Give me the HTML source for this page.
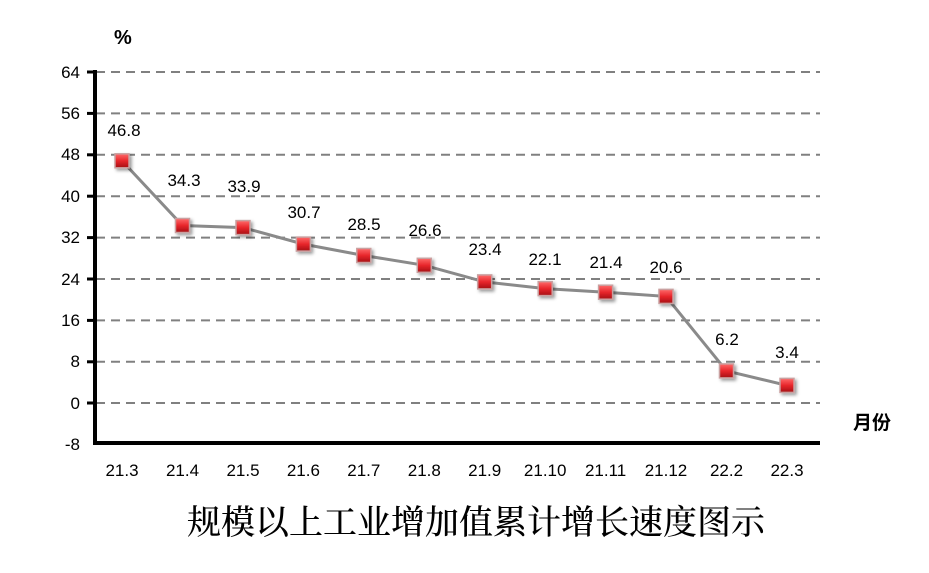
<!DOCTYPE html>
<html><head><meta charset="utf-8"><style>
body{margin:0;background:#fff;width:929px;height:568px;overflow:hidden}
svg text{font-family:"Liberation Sans","Noto Sans CJK SC",sans-serif}
</style></head><body>
<svg width="929" height="568" xmlns="http://www.w3.org/2000/svg">
<defs>
<linearGradient id="g" x1="0" y1="0" x2="0" y2="1"><stop offset="0" stop-color="#ff6b6b"/><stop offset="0.5" stop-color="#e8262b"/><stop offset="1" stop-color="#a50e14"/></linearGradient>
<filter id="s" x="-50%" y="-50%" width="200%" height="200%"><feDropShadow dx="2" dy="2" stdDeviation="1.5" flood-color="#000" flood-opacity="0.4"/></filter>
</defs>
<g stroke="#808080" stroke-width="2" stroke-dasharray="9,6">
<line x1="96" y1="72" x2="820" y2="72"/><line x1="96" y1="113.4" x2="820" y2="113.4"/><line x1="96" y1="154.8" x2="820" y2="154.8"/><line x1="96" y1="196.2" x2="820" y2="196.2"/><line x1="96" y1="237.6" x2="820" y2="237.6"/><line x1="96" y1="279" x2="820" y2="279"/><line x1="96" y1="320.4" x2="820" y2="320.4"/><line x1="96" y1="361.8" x2="820" y2="361.8"/><line x1="96" y1="403" x2="820" y2="403"/>
</g>
<g stroke="#000" stroke-width="4">
<line x1="95" y1="70" x2="95" y2="445"/><line x1="93" y1="443" x2="820" y2="443"/>
</g>
<g stroke="#000" stroke-width="3">
<line x1="87" y1="72" x2="95" y2="72"/><line x1="87" y1="113.4" x2="95" y2="113.4"/><line x1="87" y1="154.8" x2="95" y2="154.8"/><line x1="87" y1="196.2" x2="95" y2="196.2"/><line x1="87" y1="237.6" x2="95" y2="237.6"/><line x1="87" y1="279" x2="95" y2="279"/><line x1="87" y1="320.4" x2="95" y2="320.4"/><line x1="87" y1="361.8" x2="95" y2="361.8"/><line x1="87" y1="403" x2="95" y2="403"/>
</g>
<g font-size="17" text-anchor="end" fill="#000">
<text x="80" y="78">64</text><text x="80" y="119">56</text><text x="80" y="160">48</text><text x="80" y="202">40</text><text x="80" y="243">32</text><text x="80" y="285">24</text><text x="80" y="326">16</text><text x="80" y="367">8</text><text x="80" y="409">0</text><text x="80" y="450">-8</text>
</g>
<text x="114" y="44" font-size="20" font-weight="bold">%</text>
<text x="853" y="429" font-size="19" font-weight="bold">月份</text>
<g font-size="17" text-anchor="middle">
<text x="122" y="476">21.3</text><text x="182.5" y="476">21.4</text><text x="243" y="476">21.5</text><text x="303.4" y="476">21.6</text><text x="363.8" y="476">21.7</text><text x="424.3" y="476">21.8</text><text x="484.7" y="476">21.9</text><text x="545.2" y="476">21.10</text><text x="605.6" y="476">21.11</text><text x="666" y="476">21.12</text><text x="726.5" y="476">22.2</text><text x="787" y="476">22.3</text>
</g>
<polyline fill="none" stroke="#8a8a8a" stroke-width="3" points="122,160.8 182.5,225.5 243,227.6 303.4,244.1 363.8,255.5 424.3,265.3 484.7,281.9 545.2,288.6 605.6,292.2 666,296.4 726.5,370.9 787,385.4"/>
<g filter="url(#s)" fill="url(#g)" stroke="#c9a0a0" stroke-width="1.5">
<rect x="115" y="153.8" width="14" height="14"/><rect x="175.5" y="218.5" width="14" height="14"/><rect x="236" y="220.6" width="14" height="14"/><rect x="296.4" y="237.1" width="14" height="14"/><rect x="356.8" y="248.5" width="14" height="14"/><rect x="417.3" y="258.3" width="14" height="14"/><rect x="477.7" y="274.9" width="14" height="14"/><rect x="538.2" y="281.6" width="14" height="14"/><rect x="598.6" y="285.2" width="14" height="14"/><rect x="659" y="289.4" width="14" height="14"/><rect x="719.5" y="363.9" width="14" height="14"/><rect x="780" y="378.4" width="14" height="14"/>
</g>
<g font-size="17" text-anchor="middle">
<text x="124" y="136">46.8</text><text x="184" y="186">34.3</text><text x="244" y="192">33.9</text><text x="304" y="218">30.7</text><text x="364" y="230">28.5</text><text x="425" y="236">26.6</text><text x="485" y="255">23.4</text><text x="545" y="265">22.1</text><text x="606" y="268">21.4</text><text x="666" y="273">20.6</text><text x="727" y="345">6.2</text><text x="787" y="358">3.4</text>
</g>
<text x="476" y="534" font-size="34" text-anchor="middle" style="font-family:'Noto Serif CJK SC',serif" font-weight="500">规模以上工业增加值累计增长速度图示</text>
</svg>
</body></html>
